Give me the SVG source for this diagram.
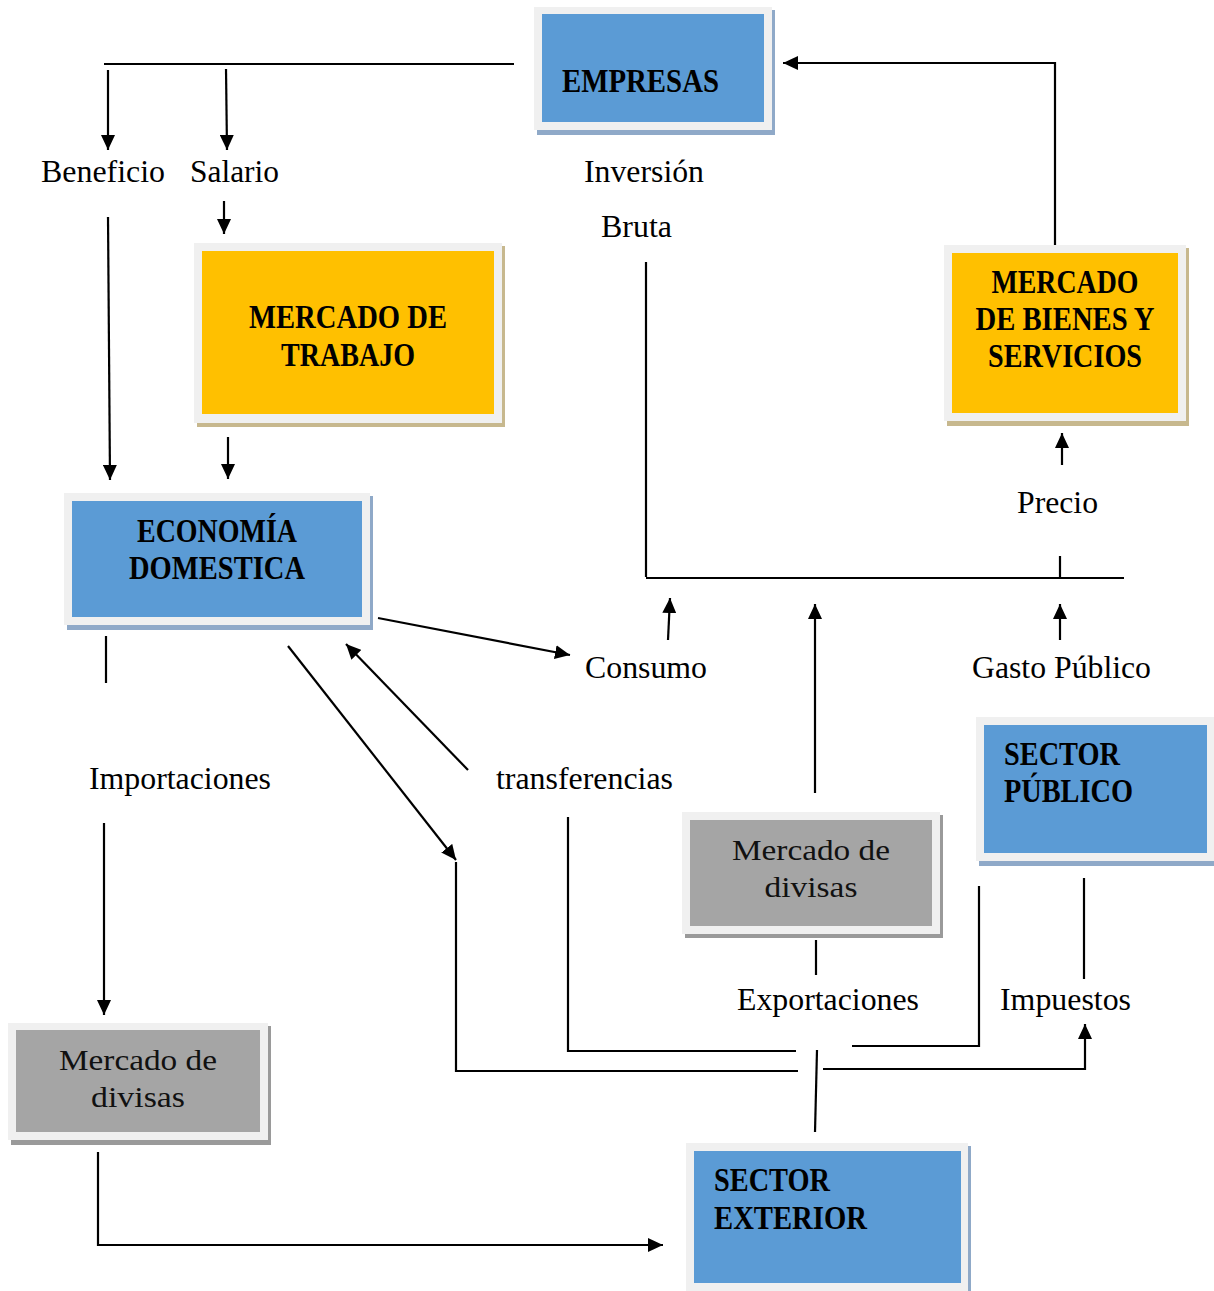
<svg xmlns="http://www.w3.org/2000/svg" width="1214" height="1291" viewBox="0 0 1214 1291">
<style>
.frame{fill:#f0f0f0}
.blue{fill:#5b9bd5}
.gold{fill:#ffc000}
.gray{fill:#a5a5a5}
.sh-blue{fill:#8fa9c8}
.sh-gold{fill:#c7b88e}
.sh-gray{fill:#9a9a9a}
.bold{font-family:"Liberation Serif",serif;font-weight:bold;font-size:33px;fill:#000}
.reg{font-family:"Liberation Serif",serif;font-size:30px;fill:#111}
.lbl{font-family:"Liberation Serif",serif;font-size:31px;fill:#000}
.c line,.c path{stroke:#000;stroke-width:2.2;fill:none}
.arr{marker-end:url(#ah)}
</style>
<defs>
<marker id="ah" markerUnits="userSpaceOnUse" markerWidth="16" markerHeight="14" refX="15" refY="7" orient="auto">
<path d="M0,0 L15,7 L0,14 z" fill="#000"/>
</marker>
</defs>
<rect width="1214" height="1291" fill="#fff"/>

<g id="empresas">
<rect class="sh-blue" x="537" y="10" width="238" height="125"/>
<rect class="frame" x="534" y="7" width="238" height="123"/>
<rect class="blue" x="542" y="14" width="222" height="108"/>
<text class="bold" x="562" y="92" textLength="157" lengthAdjust="spacingAndGlyphs">EMPRESAS</text>
</g>

<g id="mercado-trabajo">
<rect class="sh-gold" x="197" y="246" width="308" height="181"/>
<rect class="frame" x="194" y="243" width="308" height="180"/>
<rect class="gold" x="202" y="251" width="292" height="163"/>
<text class="bold" x="348" y="328" text-anchor="middle" textLength="198" lengthAdjust="spacingAndGlyphs">MERCADO DE</text>
<text class="bold" x="348" y="366" text-anchor="middle" textLength="134" lengthAdjust="spacingAndGlyphs">TRABAJO</text>
</g>

<g id="economia-domestica">
<rect class="sh-blue" x="67" y="496" width="306" height="134"/>
<rect class="frame" x="64" y="493" width="306" height="132"/>
<rect class="blue" x="72" y="501" width="290" height="116"/>
<text class="bold" x="217" y="542" text-anchor="middle" textLength="160" lengthAdjust="spacingAndGlyphs">ECONOMÍA</text>
<text class="bold" x="217" y="579" text-anchor="middle" textLength="176" lengthAdjust="spacingAndGlyphs">DOMESTICA</text>
</g>

<g id="mercado-bienes">
<rect class="sh-gold" x="947" y="248" width="242" height="178"/>
<rect class="frame" x="944" y="245" width="242" height="176"/>
<rect class="gold" x="952" y="253" width="226" height="160"/>
<text class="bold" x="1065" y="293" text-anchor="middle" textLength="147" lengthAdjust="spacingAndGlyphs">MERCADO</text>
<text class="bold" x="1065" y="330" text-anchor="middle" textLength="179" lengthAdjust="spacingAndGlyphs">DE BIENES Y</text>
<text class="bold" x="1065" y="367" text-anchor="middle" textLength="154" lengthAdjust="spacingAndGlyphs">SERVICIOS</text>
</g>

<g id="sector-publico">
<rect class="sh-blue" x="979" y="720" width="240" height="146"/>
<rect class="frame" x="976" y="717" width="240" height="144"/>
<rect class="blue" x="984" y="725" width="223" height="128"/>
<text class="bold" x="1004" y="765" textLength="116" lengthAdjust="spacingAndGlyphs">SECTOR</text>
<text class="bold" x="1004" y="802" textLength="129" lengthAdjust="spacingAndGlyphs">PÚBLICO</text>
</g>

<g id="mercado-divisas-centro">
<rect class="sh-gray" x="685" y="815" width="258" height="123"/>
<rect class="frame" x="682" y="812" width="258" height="122"/>
<rect class="gray" x="690" y="820" width="242" height="106"/>
<text class="reg" x="811" y="860" text-anchor="middle" textLength="158" lengthAdjust="spacingAndGlyphs">Mercado de</text>
<text class="reg" x="811" y="897" text-anchor="middle" textLength="93" lengthAdjust="spacingAndGlyphs">divisas</text>
</g>

<g id="mercado-divisas-izq">
<rect class="sh-gray" x="11" y="1026" width="260" height="119"/>
<rect class="frame" x="8" y="1023" width="260" height="117"/>
<rect class="gray" x="16" y="1030" width="244" height="102"/>
<text class="reg" x="138" y="1070" text-anchor="middle" textLength="158" lengthAdjust="spacingAndGlyphs">Mercado de</text>
<text class="reg" x="138" y="1107" text-anchor="middle" textLength="94" lengthAdjust="spacingAndGlyphs">divisas</text>
</g>

<g id="sector-exterior">
<rect class="sh-blue" x="689" y="1146" width="282" height="148"/>
<rect class="frame" x="686" y="1143" width="282" height="148"/>
<rect class="blue" x="694" y="1151" width="267" height="132"/>
<text class="bold" x="714" y="1191" textLength="116" lengthAdjust="spacingAndGlyphs">SECTOR</text>
<text class="bold" x="714" y="1229" textLength="153" lengthAdjust="spacingAndGlyphs">EXTERIOR</text>
</g>

<g id="labels">
<text class="lbl" x="41" y="182" textLength="124" lengthAdjust="spacingAndGlyphs">Beneficio</text>
<text class="lbl" x="190" y="182" textLength="89" lengthAdjust="spacingAndGlyphs">Salario</text>
<text class="lbl" x="584" y="182" textLength="120" lengthAdjust="spacingAndGlyphs">Inversión</text>
<text class="lbl" x="601" y="237" textLength="71" lengthAdjust="spacingAndGlyphs">Bruta</text>
<text class="lbl" x="1017" y="513" textLength="81" lengthAdjust="spacingAndGlyphs">Precio</text>
<text class="lbl" x="585" y="678" textLength="122" lengthAdjust="spacingAndGlyphs">Consumo</text>
<text class="lbl" x="972" y="678" textLength="179" lengthAdjust="spacingAndGlyphs">Gasto Público</text>
<text class="lbl" x="89" y="789" textLength="182" lengthAdjust="spacingAndGlyphs">Importaciones</text>
<text class="lbl" x="496" y="789" textLength="177" lengthAdjust="spacingAndGlyphs">transferencias</text>
<text class="lbl" x="737" y="1010" textLength="182" lengthAdjust="spacingAndGlyphs">Exportaciones</text>
<text class="lbl" x="1000" y="1010" textLength="131" lengthAdjust="spacingAndGlyphs">Impuestos</text>
</g>

<g id="connectors" class="c">
<path d="M104,64 H514"/>
<path class="arr" d="M108,70 V150"/>
<path class="arr" d="M226,69 L227,150"/>
<path class="arr" d="M224,201 V234"/>
<path class="arr" d="M108,217 L110,480"/>
<path class="arr" d="M228,437 V479"/>
<path class="arr" d="M1055,245 V63 H783"/>
<path d="M646,262 V577"/>
<path d="M646,578 H1124"/>
<path d="M1060,556 V578"/>
<path class="arr" d="M1062,465 V433"/>
<path class="arr" d="M668,640 L670,598"/>
<path class="arr" d="M815,793 V604"/>
<path class="arr" d="M1060,640 V604"/>
<path class="arr" d="M378,618 L570,655"/>
<path class="arr" d="M288,646 L456,860"/>
<path class="arr" d="M468,770 L346,644"/>
<path d="M106,636 V683"/>
<path class="arr" d="M104,823 V1015"/>
<path d="M456,862 V1071 H798"/>
<path d="M568,817 V1051 H796"/>
<path d="M816,940 V975"/>
<path d="M817,1050 L815,1132"/>
<path class="arr" d="M823,1069 H1085 V1024"/>
<path d="M852,1046 H979 V886"/>
<path d="M1084,878 V979"/>
<path class="arr" d="M98,1152 V1245 H663"/>
</g>
</svg>
